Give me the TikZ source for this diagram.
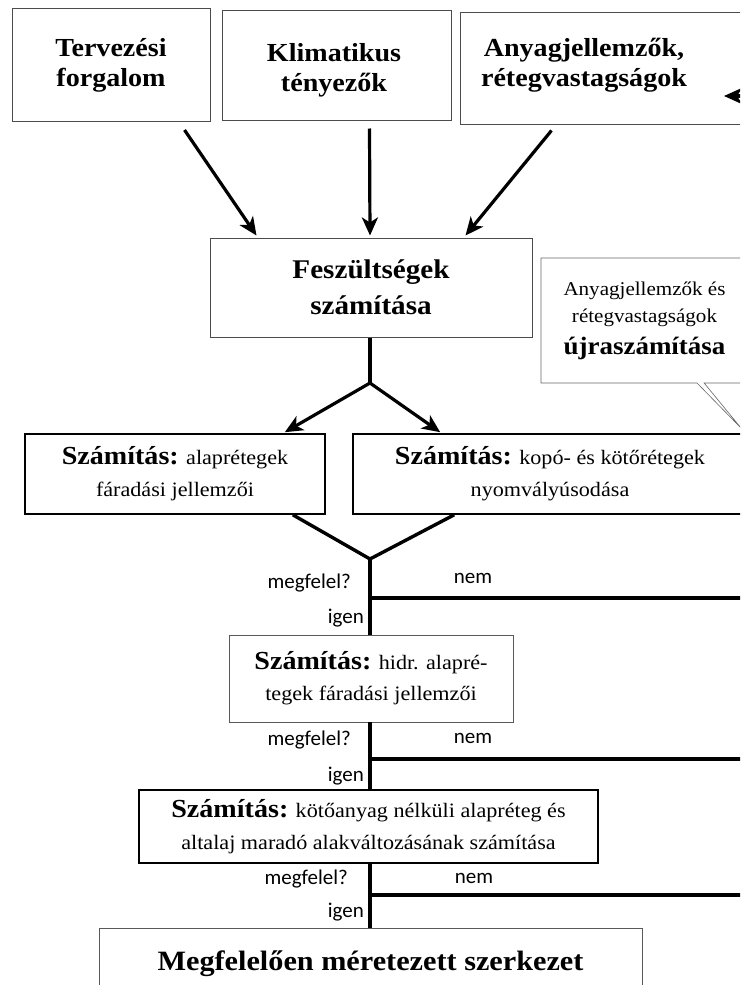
\documentclass[tikz,border=0pt]{standalone}
\usepackage{fontspec}
\setmainfont{Liberation Serif}[FakeStretch=1.08]
\newfontfamily\labelfont{Carlito}
\usetikzlibrary{arrows.meta,calc,shapes.callouts}

\newcommand{\calchead}{{\bfseries\fontsize{26}{32}\selectfont Számítás:}}

\begin{document}
\begin{tikzpicture}[x=1pt,y=-1pt,
  inbox/.style={draw=black!70, line width=1pt, align=center,
    font=\bfseries\fontsize{26}{30}\selectfont},
  calcbox/.style={draw=black, line width=1.6pt, align=center,
    font=\fontsize{20.5}{32}\selectfont},
  thinbox/.style={draw=black!65, line width=0.9pt, align=center,
    font=\fontsize{20.5}{31}\selectfont},
  arr/.style={-{Stealth[length=18pt,width=16pt,inset=5pt]}, line width=3.2pt},
  flow/.style={line width=3.4pt},
  answer/.style={font=\labelfont\fontsize{21}{23}\selectfont, inner sep=1pt},
]

\useasboundingbox (0,0) rectangle (740,985);

% ===== kép széle =====
\begin{scope}
  \clip (0,0) rectangle (740,985);

  % bemenetek
  \node[inbox, minimum width=198pt, minimum height=113pt] (forg) at (111,65) {Tervezési\\forgalom};
  \node[inbox, minimum width=229pt, minimum height=110pt] (klima) at (336.5,65) {};
  \node[inbox, draw=none] (klimatxt) at (334,70) {Klimatikus\\tényezők};
  \node[inbox, minimum width=300pt, minimum height=112pt] (anyag) at (610,68) {};
  \node[inbox, draw=none] (anyagtxt) at (584,65) {Anyagjellemzők,\\rétegvastagságok};

  % feszültségek
  \node[inbox, font=\bfseries\fontsize{27}{36}\selectfont, minimum width=322pt,
    minimum height=99pt] (fesz) at (371,287.5) {Feszültségek\\számítása};

  \draw[arr] ($(forg.south east)+(-26,8)$) -- ($(fesz.north west)+(47,-2)$);
  \draw[arr] ($(klima.south west)+(148,8)$) -- ($(fesz.north)+(-1,-2)$);
  \draw[arr] ($(anyag.south west)+(92,6)$) -- ($(fesz.north east)+(-67,-2)$);

  % visszacsatolás
  \coordinate (back) at (760,96);
  \coordinate (backtip) at (724,96);
  \draw[arr] (back) -- (backtip);

  % buborék
  \coordinate (redotip) at (741,428);
  \node[rectangle callout, draw=black!60, line width=0.6pt, minimum width=207pt,
    minimum height=125pt, callout absolute pointer={(redotip)}, align=center,
    font=\fontsize{19.5}{27}\selectfont] (redo) at (644.5,320.5)
    {Anyagjellemzők és\\rétegvastagságok\\[5pt]{\bfseries\fontsize{25}{27}\selectfont újraszámítása}};

  % két számítás
  \node[calcbox, minimum width=300pt, minimum height=80pt] (alap) at (175,474)
    {\calchead{} alaprétegek\\fáradási jellemzői};
  \node[calcbox, minimum width=394pt, minimum height=80pt] (kopo) at (550,474)
    {\calchead{} kopó- és kötőrétegek\\nyomvályúsodása};

  \coordinate (split) at (370,383);
  \draw[flow] (fesz.south -| split) -- (split);
  \draw[arr] (split) -- ($(alap.north east)+(-41,-1)$);
  \draw[arr] (split) -- ($(kopo.north west)+(88,-1)$);

  \coordinate (merge) at (370,559);
  \draw[flow, line join=miter] ($(alap.south east)+(-33,0)$) -- (merge) -- ($(kopo.south west)+(102,0)$);

  % további ellenőrzések
  \node[thinbox, minimum width=284pt, minimum height=87pt] (hidr) at (371,678.5)
    {\calchead{} hidr. alapré-\\tegek fáradási jellemzői};
  \node[calcbox, line width=2pt, minimum width=459pt, minimum height=73pt] (koto) at (368.5,826.5)
    {\calchead{} kötőanyag nélküli alapréteg és\\altalaj maradó alakváltozásának számítása};
  \node[thinbox, minimum width=543pt, minimum height=72pt] (kesz) at (370.5,964)
    {\bfseries\fontsize{28}{30}\selectfont Megfelelően méretezett szerkezet};

  \coordinate (rside) at (745,0);
  \draw[flow] (merge) -- (hidr.north -| merge);
  \draw[flow] (hidr.south -| merge) -- (koto.north -| merge);
  \draw[flow] (koto.south -| merge) -- (kesz.north -| merge);

  \coordinate (no1) at (370,598);
  \coordinate (no2) at (370,759);
  \coordinate (no3) at (370,895);
  \draw[flow] (no1) -- (no1 -| rside);
  \draw[flow] (no2) -- (no2 -| rside);
  \draw[flow] (no3) -- (no3 -| rside);

  % igen / nem
  \node[answer, anchor=east] (ask1) at (352,583) {megfelel?};
  \node[answer] (nem1) at (473,578) {nem};
  \node[answer, anchor=east] (igen1) at (365,618) {igen};

  \node[answer, anchor=east] (ask2) at (352,740) {megfelel?};
  \node[answer] (nem2) at (473,738) {nem};
  \node[answer, anchor=east] (igen2) at (365,776) {igen};

  \node[answer, anchor=east] (ask3) at (349,879) {megfelel?};
  \node[answer] (nem3) at (474,878) {nem};
  \node[answer, anchor=east] (igen3) at (365,912) {igen};
\end{scope}

\end{tikzpicture}
\end{document}
